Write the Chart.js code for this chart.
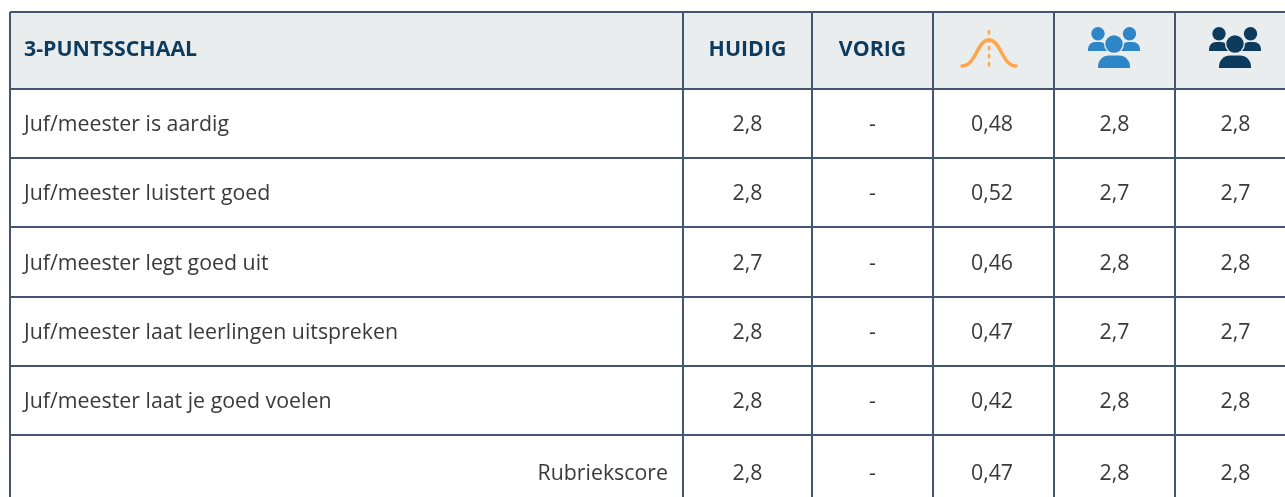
<!DOCTYPE html>
<html>
<head>
<meta charset="utf-8">
<title>3-puntsschaal</title>
<script src="https://cdn.jsdelivr.net/npm/chart.js@4/dist/chart.umd.min.js"></script>
<style>
    html, body { margin: 0; padding: 0; background: #fff; overflow: hidden; }
    #wrap { width: 1285px; height: 497px; }
</style>
</head>
<body>
<div id="wrap"><canvas id="tableChart" width="1285" height="497"></canvas></div>
<script>
// table contents
const tableTitle = '3-PUNTSSCHAAL';
const columnHeaders = ['HUIDIG', 'VORIG'];
const questions = [
    'Juf/meester is aardig',
    'Juf/meester luistert goed',
    'Juf/meester legt goed uit',
    'Juf/meester laat leerlingen uitspreken',
    'Juf/meester laat je goed voelen'
];
const summaryLabel = 'Rubriekscore';

// one value per row, the last one is the Rubriekscore
const huidig = [2.8, 2.8, 2.7, 2.8, 2.8, 2.8];
const vorig = [null, null, null, null, null, null];
const spreiding = [0.48, 0.52, 0.46, 0.47, 0.42, 0.47];
const groepA = [2.8, 2.7, 2.8, 2.7, 2.8, 2.8];
const groepB = [2.8, 2.7, 2.8, 2.7, 2.8, 2.8];

// table layout in scale units (px from the left/top of the plot area)
const colEdges = [0, 673, 802, 923, 1044, 1165];
const rowEdges = [0, 77, 146, 215, 285, 354, 423];
const scaleMaxX = 1275;
const scaleMaxY = 485;

const BORDER = '#43556F';
const HEADER_BG = '#EAEDEE';
const NAVY = '#0D3B5E';
const TEXT = '#3A3A3A';
const BLUE = '#2E86C8';
const ORANGE = '#FFA64D';
const FONT = '"Open Sans", sans-serif';

// last row runs past the bottom of the page
const rowMid = i => (rowEdges[i + 1] + (rowEdges[i + 2] ?? rowEdges[i + 1] + 74)) / 2;
const colMid = i => (colEdges[i] + (colEdges[i + 1] ?? colEdges[i] + 121)) / 2;
const headerMid = rowEdges[1] / 2;
const fmt = (v, d) => v === null ? '-' : v.toFixed(d).replace('.', ',');

// icons used as point styles
function makeIcon(w, h, draw) {
    const c = document.createElement('canvas');
    c.width = w;
    c.height = h;
    draw(c.getContext('2d'));
    return c;
}

const bellIcon = makeIcon(62, 40, g => {
    g.strokeStyle = ORANGE;
    g.lineCap = 'round';
    g.lineWidth = 3.6;
    g.beginPath();
    g.moveTo(4, 37);
    g.bezierCurveTo(18, 37, 19, 11, 31, 11);
    g.bezierCurveTo(43, 11, 44, 37, 58, 37);
    g.stroke();
    g.lineWidth = 2.4;
    g.lineCap = 'butt';
    g.setLineDash([4.5, 3.5]);
    g.beginPath();
    g.moveTo(31, 1);
    g.lineTo(31, 39);
    g.stroke();
});

function peopleIcon(color) {
    return makeIcon(52, 41, g => {
        g.fillStyle = color;
        const head = (x, y, r) => {
            g.beginPath();
            g.arc(x, y, r, 0, Math.PI * 2);
            g.fill();
        };
        const body = (x1, x2, top, bottom, r) => {
            g.beginPath();
            g.roundRect(x1, top, x2 - x1, bottom - top, [r, r, 0, 0]);
            g.fill();
        };
        head(10, 6.7, 6.7);
        head(41.5, 6.7, 6.7);
        body(0, 19, 15, 24, 7);
        body(33, 52, 15, 24, 7);
        // gap round the middle head
        g.globalCompositeOperation = 'destination-out';
        head(26, 17, 10);
        g.globalCompositeOperation = 'source-over';
        head(26, 17, 8.7);
        body(10, 42, 28.5, 41, 11);
    });
}

// every text cell becomes a point, the labels plugin prints it at the scale position
function columnPoints(values, col, digits) {
    return values.map((v, i) => ({ x: colMid(col), y: rowMid(i), text: fmt(v, digits) }));
}

const hidden = { pointRadius: 0, pointHoverRadius: 0, showLine: false };

const datasets = [
    { ...hidden, label: 'Huidig', data: columnPoints(huidig, 1, 1) },
    { ...hidden, label: 'Vorig', data: columnPoints(vorig, 2, 1) },
    { ...hidden, label: 'Spreiding', data: columnPoints(spreiding, 3, 2).map(p => ({ ...p, x: p.x - 1.5 })) },
    { ...hidden, label: 'Groep A', data: columnPoints(groepA, 4, 1) },
    { ...hidden, label: 'Groep B', data: columnPoints(groepB, 5, 1) },
    {
        ...hidden,
        label: 'Vragen',
        data: questions.map((q, i) => ({ x: 14, y: rowMid(i), text: q, align: 'left' }))
            .concat([{ x: 658, y: rowMid(questions.length), text: summaryLabel, align: 'right' }])
    },
    {
        ...hidden,
        label: 'Kop',
        data: [
            { x: 14, y: headerMid, text: tableTitle, align: 'left', head: true },
            { x: colMid(1), y: headerMid, text: columnHeaders[0], head: true },
            { x: colMid(2), y: headerMid, text: columnHeaders[1], head: true }
        ]
    },
    {
        label: 'Iconen',
        showLine: false,
        pointRadius: 20,
        pointHoverRadius: 20,
        pointStyle: [bellIcon, peopleIcon(BLUE), peopleIcon(NAVY)],
        data: [
            { x: colMid(3) - 4.5, y: headerMid - 1.5 },
            { x: colMid(4) - 0.5, y: headerMid - 3 },
            { x: colMid(5) - 0.5, y: headerMid - 3 }
        ]
    }
];

// header background, below the grid
const headerFill = {
    id: 'headerFill',
    beforeDraw(chart) {
        const { ctx, chartArea: a, scales: { y } } = chart;
        ctx.save();
        ctx.fillStyle = HEADER_BG;
        ctx.fillRect(a.left, y.getPixelForValue(0), a.width, y.getPixelForValue(rowEdges[1]) - y.getPixelForValue(0));
        ctx.restore();
    }
};

const cellLabels = {
    id: 'cellLabels',
    afterDatasetsDraw(chart) {
        const { ctx } = chart;
        ctx.save();
        ctx.textBaseline = 'middle';
        chart.data.datasets.forEach((ds, di) => {
            chart.getDatasetMeta(di).data.forEach((el, i) => {
                const p = ds.data[i];
                if (!p.text) return;
                ctx.font = p.head ? `700 21.33px ${FONT}` : `400 21.33px ${FONT}`;
                ctx.fillStyle = p.head ? NAVY : TEXT;
                ctx.textAlign = p.align || 'center';
                ctx.fillText(p.text, el.x, el.y + (p.head ? -0.5 : 1.5));
            });
        });
        ctx.restore();
    }
};

const gridStyle = { color: BORDER, lineWidth: 2, drawTicks: false };

new Chart(document.getElementById('tableChart'), {
    type: 'scatter',
    data: { datasets: datasets },
    plugins: [headerFill, cellLabels],
    options: {
        responsive: false,
        animation: false,
        events: [],
        layout: { autoPadding: false, padding: { left: 10, top: 12, right: 0, bottom: 0 } },
        plugins: { legend: { display: false }, tooltip: { enabled: false } },
        scales: {
            x: {
                type: 'linear',
                min: 0,
                max: scaleMaxX,
                grid: gridStyle,
                border: { display: false },
                ticks: { display: false },
                afterBuildTicks: s => { s.ticks = colEdges.map(v => ({ value: v })); }
            },
            y: {
                type: 'linear',
                reverse: true,
                min: 0,
                max: scaleMaxY,
                grid: gridStyle,
                border: { display: false },
                ticks: { display: false },
                afterBuildTicks: s => { s.ticks = rowEdges.map(v => ({ value: v })); }
            }
        }
    }
});
</script>
</body>
</html>
